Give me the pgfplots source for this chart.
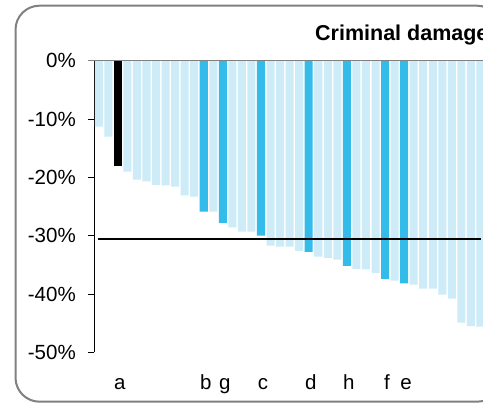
\documentclass[border=0pt]{standalone}
\usepackage{pgfplots}
\pgfplotsset{compat=1.18}
\usepackage{fontspec}
\setmainfont{Liberation Sans}
\definecolor{lightb}{RGB}{205,236,248}
\definecolor{darkb}{RGB}{51,187,233}
\definecolor{framegray}{RGB}{128,128,128}
\begin{document}
\begin{tikzpicture}[x=1pt,y=1pt]
\useasboundingbox (0,0) rectangle (483,403);
\clip (0,0) rectangle (483,403);
\fill[white] (0,0) rectangle (483,403);
\draw[framegray, line width=2pt, rounded corners=24pt] (15.5,1.3) rectangle (501,397.3);
\node[anchor=base west, font=\bfseries\fontsize{21.5}{25}\selectfont, inner sep=0pt] at (315,362) {Criminal damage};
\begin{axis}[
  at={(94.3pt,50.7pt)}, anchor=south west,
  scale only axis, width=391.9pt, height=291.6pt,
  xmin=0.53, xmax=41.6, ymin=-50, ymax=0,
  axis x line*=bottom, axis y line*=left,
  x axis line style={draw=none},
  y axis line style={black, line width=0.8pt},
  xtick={3,12,14,18,23,27,31,33},
  xticklabels={a,b,g,c,d,h,f,e},
  xtick style={draw=none},
  xticklabel style={anchor=base, xshift=2pt, yshift=-31.5pt, font=\fontsize{20.5}{24}\selectfont},
  ytick={-50,-40,-30,-20,-10,0},
  yticklabels={-50\%,-40\%,-30\%,-20\%,-10\%,0\%},
  ytick style={black, line width=0.8pt},
  tick align=outside, major tick length=6pt,
  yticklabel style={anchor=east, xshift=-9pt, font=\fontsize{20.5}{24}\selectfont},
  clip=false,
  ybar, bar width=0.84,
]
\addplot[ybar, bar shift=0pt, fill=lightb, draw=none] coordinates {
(1,-11.3) (2,-13.0) (4,-19.0) (5,-20.4) (6,-20.7) (7,-21.3) (8,-21.4) (9,-21.6) (10,-23.1) (11,-23.3)
(13,-25.9) (15,-28.6) (16,-29.3) (17,-29.3) (19,-31.7) (20,-31.9) (21,-31.9) (22,-32.6)
(24,-33.6) (25,-33.8) (26,-34.1) (28,-35.7) (29,-35.8) (30,-36.4) (32,-37.7)
(34,-38.4) (35,-39.1) (36,-39.1) (37,-40.1) (38,-40.8) (39,-44.9) (40,-45.5) (41,-45.6)
};
\addplot[ybar, bar shift=0pt, fill=darkb, draw=none] coordinates {
(12,-25.9) (14,-27.8) (18,-30.0) (23,-32.8) (27,-35.2) (31,-37.4) (33,-38.2)
};
\addplot[ybar, bar shift=0pt, fill=black, draw=none] coordinates {
(3,-18.0)
};
\addplot[sharp plot, framegray, line width=1.4pt] coordinates {(-0.1,0) (42,0)};
\addplot[sharp plot, black, line width=2pt] coordinates {(0.92,-30.6) (41.05,-30.6)};
\end{axis}
\end{tikzpicture}
\end{document}
